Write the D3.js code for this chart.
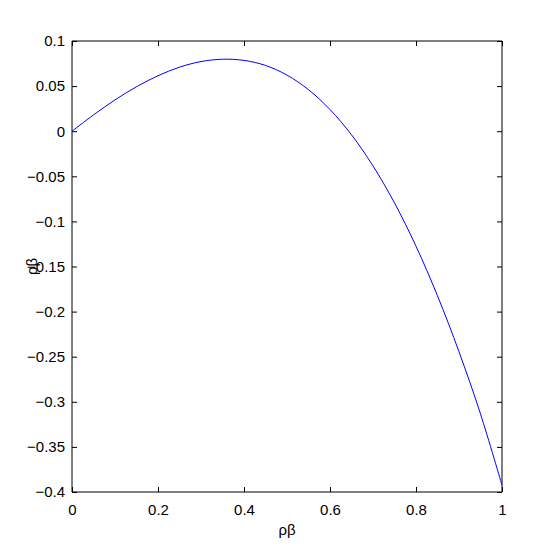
<!DOCTYPE html>
<html>
<head>
<meta charset="utf-8">
<script src="https://cdnjs.cloudflare.com/ajax/libs/d3/7.8.5/d3.min.js"></script>
<style>
  body { margin: 0; background: #fff; }
  svg text { font-family: "Liberation Sans", Arial, sans-serif; font-size: 15px; fill: #000; }
</style>
</head>
<body>
<div id="stage_id"></div>
<script>
// values
var xValues = [0, 0.05, 0.1, 0.15, 0.2, 0.25, 0.3, 0.35, 0.4, 0.45, 0.5,
               0.55, 0.6, 0.65, 0.7, 0.75, 0.8, 0.85, 0.9, 0.95, 1];
var yValues = [0, 0.0181, 0.0347, 0.0493, 0.0615, 0.0710, 0.0772, 0.0798, 0.0785, 0.0729, 0.0622,
               0.0460, 0.0240, -0.0040, -0.0385, -0.0795, -0.1275, -0.1825, -0.2445, -0.3135, -0.3925];

var xTicks = [0, 0.2, 0.4, 0.6, 0.8, 1];
var yTicks = [0.1, 0.05, 0, -0.05, -0.1, -0.15, -0.2, -0.25, -0.3, -0.35, -0.4];

var xLabel = "ρβ";
var yLabel = "ρβ";

var cx = 554, cy = 554;
var margin = {top: 41, right: 52, bottom: 62, left: 72};
var width = cx - margin.left - margin.right;
var height = cy - margin.top - margin.bottom;

var svg = d3.select("#stage_id")
  .append("svg")
  .attr("width", cx)
  .attr("height", cy);

var g = svg.append("g")
  .attr("transform", "translate(" + margin.left + "," + margin.top + ")");

var xScale = d3.scaleLinear().domain([0, 1]).range([0, width]);
var yScale = d3.scaleLinear().domain([-0.4, 0.1]).range([height, 0]);

function fmt(d) {
  var s = d3.format("")(+d.toFixed(2));
  return s.replace("-", "\u2212");
}

// bottom + left axes (ticks inside)
var xAxis = d3.axisBottom(xScale).tickValues(xTicks).tickSize(-5).tickPadding(12).tickFormat(fmt);
var yAxis = d3.axisLeft(yScale).tickValues(yTicks).tickSize(-5).tickPadding(7).tickFormat(fmt);

var gX = g.append("g")
  .attr("class", "x axis")
  .attr("transform", "translate(0," + height + ")")
  .call(xAxis);

var gY = g.append("g")
  .attr("class", "y axis")
  .call(yAxis);

// top + right axes, ticks only
var gXt = g.append("g")
  .call(d3.axisTop(xScale).tickValues(xTicks).tickSize(-5).tickFormat(""));
var gYr = g.append("g")
  .attr("transform", "translate(" + width + ",0)")
  .call(d3.axisRight(yScale).tickValues(yTicks).tickSize(-5).tickFormat(""));

g.selectAll(".domain").attr("stroke", "#000").attr("stroke-width", 1);
g.selectAll(".tick line").attr("stroke", "#000");
g.selectAll(".tick text").style("font-size", "15px").attr("fill", "#000");

// clean up d3's outer tick caps
gX.select(".domain").attr("d", "M0,0H" + width);
gY.select(".domain").attr("d", "M0,0V" + height);
gXt.select(".domain").attr("d", "M0,0H" + width);
gYr.select(".domain").attr("d", "M0,0V" + height);

var points = xValues.map(function(x, i) { return {x: x, y: yValues[i]}; });

var line = d3.line()
  .x(function(d) { return xScale(d.x); })
  .y(function(d) { return yScale(d.y); })
  .curve(d3.curveCatmullRom);

g.append("path")
  .datum(points)
  .attr("fill", "none")
  .attr("stroke", "#0000ff")
  .attr("stroke-width", 1)
  .attr("d", line);

// axis labels
svg.append("text")
  .attr("x", margin.left + width / 2)
  .attr("y", 535)
  .attr("text-anchor", "middle")
  .text(xLabel);

svg.append("text")
  .attr("transform", "translate(37," + (margin.top + height / 2) + ") rotate(-90)")
  .attr("text-anchor", "middle")
  .text(yLabel);
</script>
</body>
</html>
